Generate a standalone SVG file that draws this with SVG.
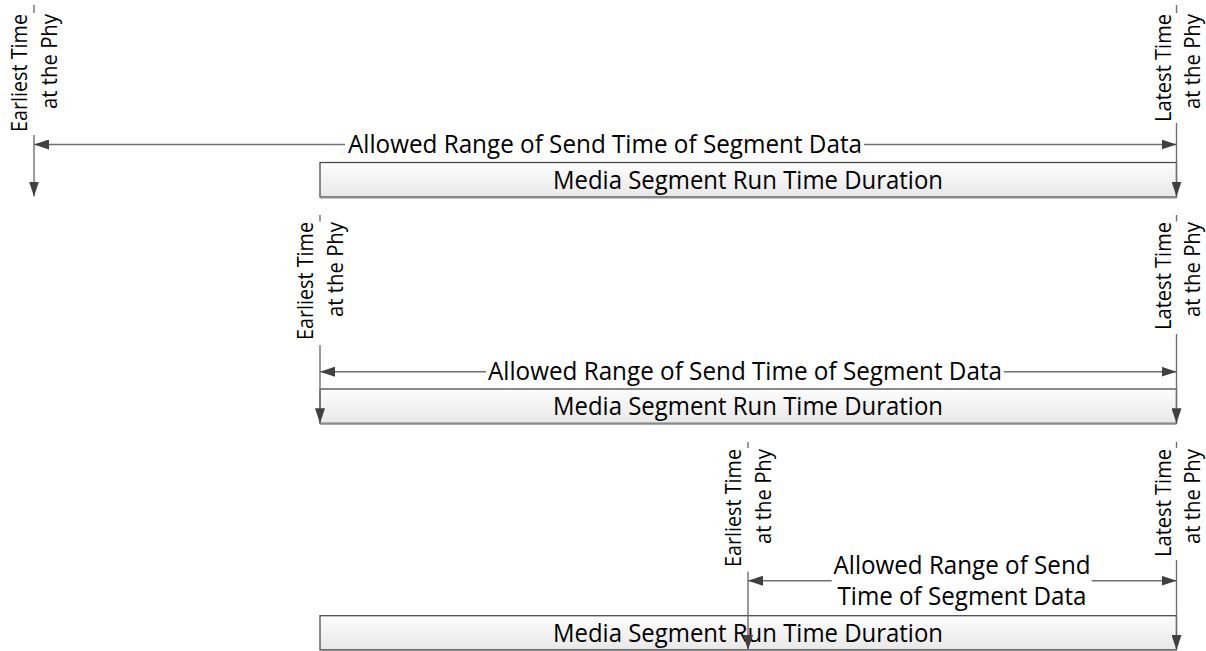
<svg xmlns="http://www.w3.org/2000/svg" width="1206" height="651" viewBox="0 0 1206 651">
<defs>
<linearGradient id="boxFill" x1="0" y1="0" x2="0" y2="1"><stop offset="0" stop-color="#fdfdfd"/><stop offset="1" stop-color="#e8e8e8"/></linearGradient>
<marker id="ah" viewBox="0 0 15 10" refX="15" refY="5" markerWidth="15" markerHeight="10" markerUnits="userSpaceOnUse" orient="auto-start-reverse"><path d="M0,0 L15,5 L0,10 z" fill="#404040"/></marker>
</defs>
<style>
.box{fill:url(#boxFill);stroke:#4d4d4d;stroke-width:1.3}
.shadow{stroke:#8c8c8c;stroke-width:1.6;fill:none}
.ln{stroke:#707070;stroke-width:1.4;fill:none}
.arr{marker-end:url(#ah)}
.t{font-family:"Open Sans","Noto Sans","Liberation Sans",sans-serif;fill:#000}
.big{font-size:25.5px;text-anchor:middle}
.v{font-size:21px;text-anchor:end}
</style>
<rect width="1206" height="651" fill="#fff"/>

<!-- Panel 1 -->
<g id="p1-duration">
<rect class="box" x="320" y="162.5" width="856.5" height="34.5"/>
<line class="shadow" x1="320" y1="197.6" x2="1176.5" y2="197.6"/>
<text class="t big" x="748" y="189" textLength="390" lengthAdjust="spacingAndGlyphs">Media Segment Run Time Duration</text>
</g>
<g id="p1-earliest">
<text class="t v" transform="translate(27,14) rotate(-90)" textLength="118" lengthAdjust="spacingAndGlyphs">Earliest Time</text>
<text class="t v" transform="translate(56.5,14) rotate(-90)" textLength="95" lengthAdjust="spacingAndGlyphs">at the Phy</text>
</g>
<g id="p1-latest">
<text class="t v" transform="translate(1170.5,14) rotate(-90)" textLength="108" lengthAdjust="spacingAndGlyphs">Latest Time</text>
<text class="t v" transform="translate(1199.5,14) rotate(-90)" textLength="95" lengthAdjust="spacingAndGlyphs">at the Phy</text>
</g>
<g id="p1-range">
<text class="t big" x="605" y="153.2" textLength="514" lengthAdjust="spacingAndGlyphs">Allowed Range of Send Time of Segment Data</text>
</g>

<!-- Panel 2 -->
<g id="p2-duration">
<rect class="box" x="320" y="389" width="856.5" height="34.3"/>
<line class="shadow" x1="320" y1="423.9" x2="1176.5" y2="423.9"/>
<text class="t big" x="748" y="415.4" textLength="390" lengthAdjust="spacingAndGlyphs">Media Segment Run Time Duration</text>
</g>
<g id="p2-earliest">
<text class="t v" transform="translate(313,222) rotate(-90)" textLength="118" lengthAdjust="spacingAndGlyphs">Earliest Time</text>
<text class="t v" transform="translate(342.5,222) rotate(-90)" textLength="95" lengthAdjust="spacingAndGlyphs">at the Phy</text>
</g>
<g id="p2-latest">
<text class="t v" transform="translate(1170.5,222) rotate(-90)" textLength="108" lengthAdjust="spacingAndGlyphs">Latest Time</text>
<text class="t v" transform="translate(1199.5,222) rotate(-90)" textLength="95" lengthAdjust="spacingAndGlyphs">at the Phy</text>
</g>
<g id="p2-range">
<text class="t big" x="745" y="380.4" textLength="514" lengthAdjust="spacingAndGlyphs">Allowed Range of Send Time of Segment Data</text>
</g>

<!-- Panel 3 -->
<g id="p3-duration">
<rect class="box" x="320" y="615.7" width="856.5" height="34"/>
<line class="shadow" x1="320" y1="650.2" x2="1176.5" y2="650.2"/>
<text class="t big" x="748" y="642" textLength="390" lengthAdjust="spacingAndGlyphs">Media Segment Run Time Duration</text>
</g>
<g id="p3-earliest">
<text class="t v" transform="translate(741,449) rotate(-90)" textLength="118" lengthAdjust="spacingAndGlyphs">Earliest Time</text>
<text class="t v" transform="translate(770.5,449) rotate(-90)" textLength="95" lengthAdjust="spacingAndGlyphs">at the Phy</text>
</g>
<g id="p3-latest">
<text class="t v" transform="translate(1170.5,449) rotate(-90)" textLength="108" lengthAdjust="spacingAndGlyphs">Latest Time</text>
<text class="t v" transform="translate(1199.5,449) rotate(-90)" textLength="95" lengthAdjust="spacingAndGlyphs">at the Phy</text>
</g>
<g id="p3-range">
<text class="t big" x="962" y="573.8" textLength="257" lengthAdjust="spacingAndGlyphs">Allowed Range of Send</text>
<text class="t big" x="962" y="604.8" textLength="249" lengthAdjust="spacingAndGlyphs">Time of Segment Data</text>
</g>

<g id="connectors">
<!-- panel 1 -->
<path class="ln" d="M34,5 V13"/>
<path class="ln arr" d="M34,135 V196.5"/>
<path class="ln" d="M1176.5,5 V13"/>
<path class="ln arr" d="M1176.5,123 V196.5"/>
<path class="ln arr" d="M345,144.5 H34"/>
<path class="ln arr" d="M864,144.5 H1176.5"/>
<!-- panel 2 -->
<path class="ln" d="M320,215 V221.5"/>
<path class="ln arr" d="M320,345 V423.3"/>
<path class="ln" d="M1176.5,215 V221.5"/>
<path class="ln arr" d="M1176.5,334 V423.3"/>
<path class="ln arr" d="M486,371.7 H320"/>
<path class="ln arr" d="M1004,371.7 H1176.5"/>
<!-- panel 3 -->
<path class="ln" d="M748,442 V448"/>
<path class="ln arr" d="M748,571.7 V650"/>
<path class="ln" d="M1176.5,442 V448"/>
<path class="ln arr" d="M1176.5,560 V650"/>
<path class="ln arr" d="M831.7,580.7 H748"/>
<path class="ln arr" d="M1091.7,580.7 H1176.5"/>
</g>
</svg>
